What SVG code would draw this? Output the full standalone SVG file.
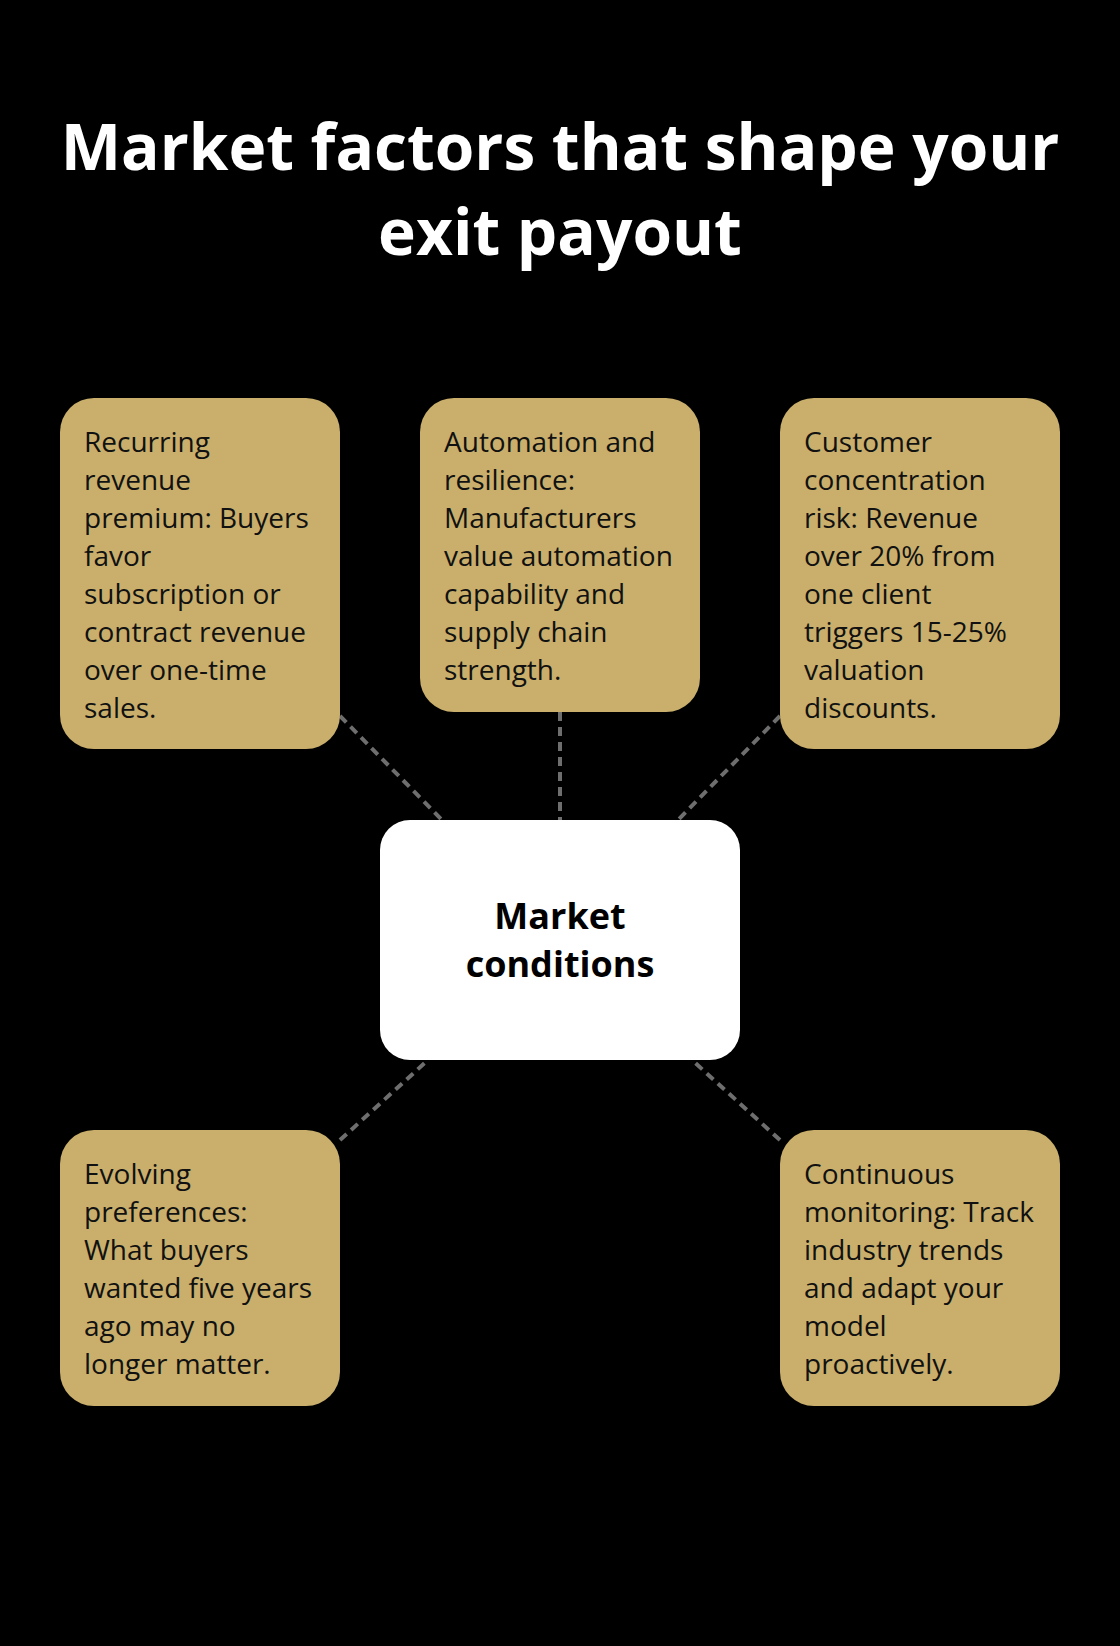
<svg xmlns="http://www.w3.org/2000/svg" width="1120" height="1646" viewBox="0 0 1120 1646">
<style>
.title{font-family:"Open Sans","Noto Sans",sans-serif;font-weight:700;font-size:64px;fill:#ffffff;text-anchor:middle}
.card{fill:#c9af6b}
.body{font-family:"Open Sans","Noto Sans",sans-serif;font-size:28px;fill:#111111}
.hub{fill:#ffffff}
.hubt{font-family:"Open Sans","Noto Sans",sans-serif;font-weight:700;font-size:36px;fill:#000000;text-anchor:middle}
.conn{stroke:#6e6e6e;stroke-width:4;stroke-dasharray:9 6;fill:none}
</style>
<rect width="1120" height="1646" fill="#000000"/>
<g id="title">
<text class="title" x="560" y="170">Market factors that shape your</text>
<text class="title" x="560" y="255">exit payout</text>
</g>
<g id="connectors">
<line class="conn" x1="340" y1="716" x2="442" y2="820"/>
<line class="conn" x1="560" y1="712" x2="560" y2="820"/>
<line class="conn" x1="780" y1="716" x2="678" y2="820"/>
<line class="conn" x1="340" y1="1140" x2="428" y2="1060"/>
<line class="conn" x1="780" y1="1140" x2="692" y2="1060"/>
</g>
<g id="node-recurring">
<rect class="card" x="60" y="398" width="280" height="351" rx="34"/>
<text class="body" x="84" y="452">Recurring</text>
<text class="body" x="84" y="490">revenue</text>
<text class="body" x="84" y="528">premium: Buyers</text>
<text class="body" x="84" y="566">favor</text>
<text class="body" x="84" y="604">subscription or</text>
<text class="body" x="84" y="642">contract revenue</text>
<text class="body" x="84" y="680">over one-time</text>
<text class="body" x="84" y="718">sales.</text>
</g>
<g id="node-automation">
<rect class="card" x="420" y="398" width="280" height="314" rx="34"/>
<text class="body" x="444" y="452">Automation and</text>
<text class="body" x="444" y="490">resilience:</text>
<text class="body" x="444" y="528">Manufacturers</text>
<text class="body" x="444" y="566">value automation</text>
<text class="body" x="444" y="604">capability and</text>
<text class="body" x="444" y="642">supply chain</text>
<text class="body" x="444" y="680">strength.</text>
</g>
<g id="node-customer">
<rect class="card" x="780" y="398" width="280" height="351" rx="34"/>
<text class="body" x="804" y="452">Customer</text>
<text class="body" x="804" y="490">concentration</text>
<text class="body" x="804" y="528">risk: Revenue</text>
<text class="body" x="804" y="566">over 20% from</text>
<text class="body" x="804" y="604">one client</text>
<text class="body" x="804" y="642">triggers 15-25%</text>
<text class="body" x="804" y="680">valuation</text>
<text class="body" x="804" y="718">discounts.</text>
</g>
<g id="node-market">
<rect class="hub" x="380" y="820" width="360" height="240" rx="30"/>
<text class="hubt" x="560" y="929">Market</text>
<text class="hubt" x="560" y="977">conditions</text>
</g>
<g id="node-evolving">
<rect class="card" x="60" y="1130" width="280" height="276" rx="34"/>
<text class="body" x="84" y="1184">Evolving</text>
<text class="body" x="84" y="1222">preferences:</text>
<text class="body" x="84" y="1260">What buyers</text>
<text class="body" x="84" y="1298">wanted five years</text>
<text class="body" x="84" y="1336">ago may no</text>
<text class="body" x="84" y="1374">longer matter.</text>
</g>
<g id="node-monitoring">
<rect class="card" x="780" y="1130" width="280" height="276" rx="34"/>
<text class="body" x="804" y="1184">Continuous</text>
<text class="body" x="804" y="1222">monitoring: Track</text>
<text class="body" x="804" y="1260">industry trends</text>
<text class="body" x="804" y="1298">and adapt your</text>
<text class="body" x="804" y="1336">model</text>
<text class="body" x="804" y="1374">proactively.</text>
</g>
</svg>
